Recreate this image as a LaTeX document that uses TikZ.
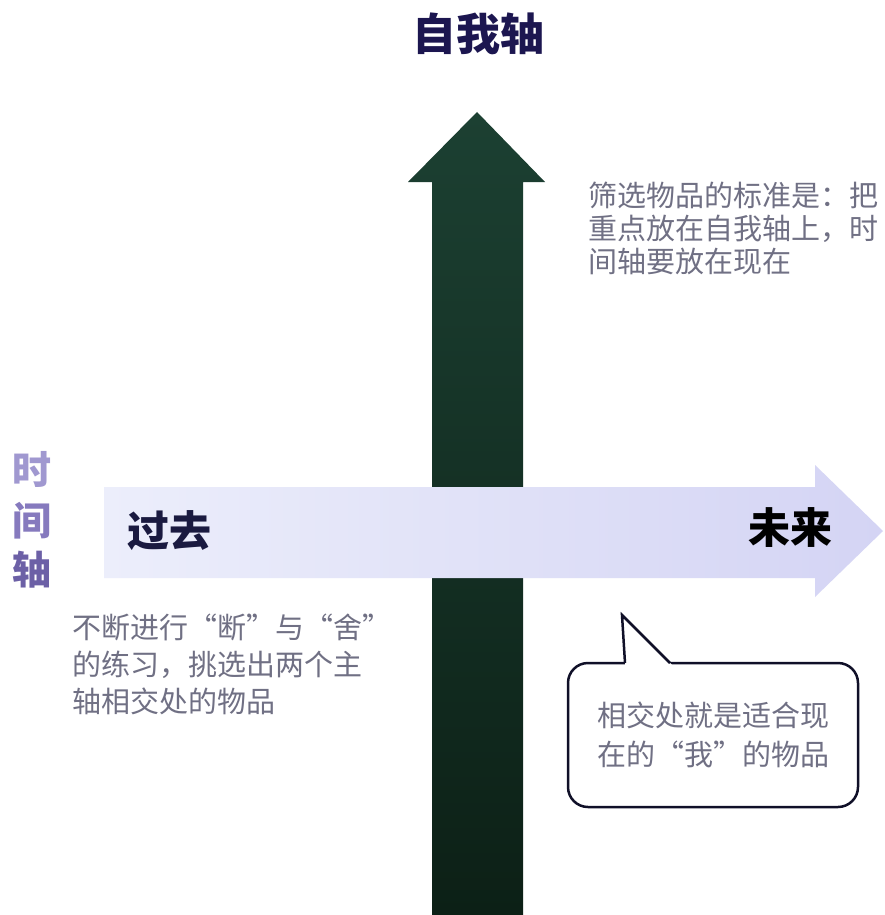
\documentclass[tikz,border=0pt]{standalone}
\usepackage{fontspec}
\newfontfamily\cjk{Noto Sans CJK SC}
\definecolor{titlecol}{RGB}{28,22,80}
\definecolor{bodycol}{RGB}{112,112,132}
\definecolor{vtop}{RGB}{28,64,50}
\definecolor{vbot}{RGB}{12,32,22}
\definecolor{hleft}{RGB}{236,238,251}
\definecolor{hright}{RGB}{212,212,244}
\definecolor{pastcol}{RGB}{26,26,64}
\definecolor{lineA}{RGB}{160,152,208}
\definecolor{lineB}{RGB}{134,122,190}
\definecolor{lineC}{RGB}{108,96,166}
\definecolor{calloutline}{RGB}{16,16,40}
\begin{document}
\begin{tikzpicture}[x=1pt,y=-1pt,
  bigbold/.style={font=\cjk\bfseries\fontsize{42}{46}\selectfont, inner sep=0},
  sidelabel/.style={font=\cjk\bfseries\fontsize{39}{42}\selectfont, inner sep=0},
  bodytext/.style={font=\cjk\fontsize{29}{#1}\selectfont, text=bodycol, align=left, inner sep=0},
  bodytext/.default=33
]
\useasboundingbox (0,0) rectangle (884,915);
\fill[white] (0,0) rectangle (884,915);

% vertical (self) axis arrow
\shade[top color=vtop, bottom color=vbot]
  (432,915) -- (432,182) -- (408,182) -- (477,112) -- (545,182) -- (523,182) -- (523,915) -- cycle;

% horizontal (time) axis arrow
\shade[left color=hleft, right color=hright]
  (104,487) -- (815,487) -- (815,465) -- (883,531) -- (815,597) -- (815,578) -- (104,578) -- cycle;

% title
\node[font=\cjk\bfseries\fontsize{44}{48}\selectfont, text=titlecol, inner sep=0] (title) at (478,34) {自我轴};

% side label
\node[sidelabel, text=lineA] (shi) at (32,469) {时};
\node[sidelabel, text=lineB] (jian) at (32,521) {间};
\node[sidelabel, text=lineC] (zhou) at (32,570) {轴};

% past / future
\node[bigbold, text=pastcol] (past) at (169,531) {过去};
\node[bigbold, text=black] (future) at (790,528) {未来};

% top right text
\node[bodytext, anchor=north west] (crit) at (588,182) {筛选物品的标准是：把\\重点放在自我轴上，时\\间轴要放在现在};

% bottom left text
\node[bodytext=37, anchor=north west] (practice) at (72,614) {不断进行“断”与“舍”\\的练习，挑选出两个主\\轴相交处的物品};

% callout
\node[draw=calloutline, line width=2.5pt, rounded corners=20pt, fill=white,
      minimum width=290pt, minimum height=144pt, bodytext=39] (callout) at (713,735)
      {相交处就是适合现\\在的“我”的物品};
\coordinate (tip) at (622,615);
\coordinate (tl) at (625,663);
\coordinate (tr) at (670,663);
\fill[white] (625.2,666) -- (tip) -- (673,666) -- cycle;
\draw[calloutline, line width=2.5pt, line join=miter] (tl) -- (tip) -- (tr);
\end{tikzpicture}
\end{document}
